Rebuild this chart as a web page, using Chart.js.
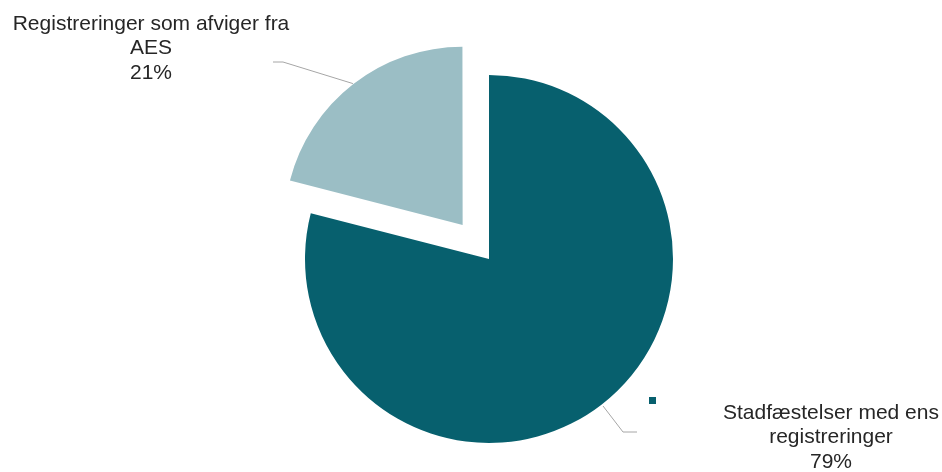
<!DOCTYPE html>
<html>
<head>
<meta charset="utf-8">
<script src="https://cdn.jsdelivr.net/npm/chart.js@4.4.1/dist/chart.umd.min.js"></script>
<style>
    html, body { margin: 0; padding: 0; background: #fff; }
    #wrap { width: 942px; height: 472px; }
</style>
</head>
<body>
<div id="wrap"><canvas id="pie-chart" width="942" height="472"></canvas></div>
<script>
'use strict';

const categories = [
    ['Stadfæstelser med ens', 'registreringer'],
    ['Registreringer som afviger fra', 'AES'],
];
const shares = [79, 21];
const sliceColors = ['#07606e', '#9bbec5'];
const percentFormatter = new Intl.NumberFormat('da-DK', { maximumFractionDigits: 0 });

// where each label sits, and the bend of its leader line
const labelLayout = [
    { textX: 831, textY: 413, elbowX: 623, elbowY: 432, endX: 637 },
    { textX: 151, textY: 24, elbowX: 283, elbowY: 62, endX: 273 },
];

const outsideLabels = {
    id: 'outsideLabels',
    afterDatasetUpdate(chart) {
        // exploded slice is drawn a bit smaller than the main one
        const arcs = chart.getDatasetMeta(0).data;
        arcs[1].outerRadius = arcs[0].outerRadius - 7;
    },
    afterDatasetsDraw(chart) {
        const ctx = chart.ctx;
        const arcs = chart.getDatasetMeta(0).data;
        ctx.save();
        arcs.forEach((arc, i) => {
            const layout = labelLayout[i];
            const mid = (arc.startAngle + arc.endAngle) / 2;
            const shift = (arc.options.offset || 0) / 4;
            const reach = shift + arc.outerRadius + 2;
            const ax = arc.x + Math.cos(mid) * reach;
            const ay = arc.y + Math.sin(mid) * reach;

            ctx.strokeStyle = '#a6a6a6';
            ctx.lineWidth = 1;
            ctx.beginPath();
            ctx.moveTo(ax, ay);
            ctx.lineTo(layout.elbowX, layout.elbowY);
            ctx.lineTo(layout.endX, layout.elbowY);
            ctx.stroke();

            const lines = categories[i].concat(percentFormatter.format(shares[i]) + '%');
            ctx.fillStyle = '#262626';
            ctx.font = '21px "Liberation Sans", Arial, sans-serif';
            ctx.textAlign = 'center';
            ctx.textBaseline = 'middle';
            lines.forEach((line, n) => {
                ctx.fillText(line, layout.textX, layout.textY + n * 24.5);
            });
        });
        // stray legend key next to the lower label
        ctx.fillStyle = sliceColors[0];
        ctx.fillRect(649, 397, 7, 7);
        ctx.restore();
    },
};

const pieElement = document.getElementById('pie-chart');
const pieChart = new Chart(pieElement, {
    type: 'pie',
    data: {
        labels: categories.map(c => c.join(' ')),
        datasets: [{
            data: shares,
            backgroundColor: sliceColors,
            borderWidth: 0,
            offset: [0, 172],
        }],
    },
    options: {
        responsive: false,
        animation: false,
        radius: 184,
        layout: {
            padding: { left: 36, right: 0, top: 46, bottom: 0 },
        },
        plugins: {
            legend: { display: false },
            tooltip: { enabled: false },
        },
    },
    plugins: [outsideLabels],
});
</script>
</body>
</html>
